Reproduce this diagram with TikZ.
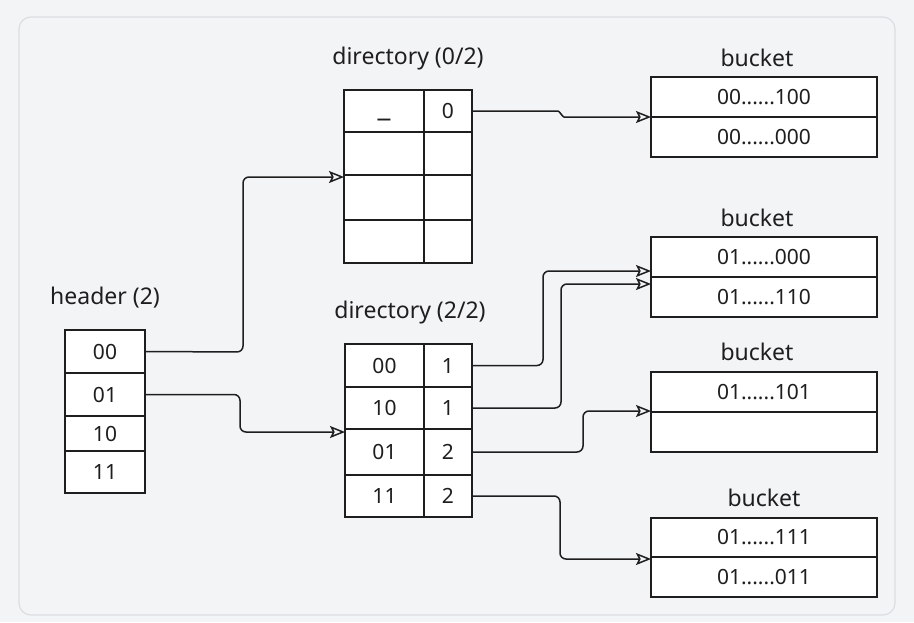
\documentclass[tikz,border=0pt]{standalone}
\usepackage{fontspec}
\setmainfont{Noto Sans}
\usetikzlibrary{arrows.meta}
\definecolor{ink}{HTML}{1E1E1E}
\definecolor{pagebg}{HTML}{F3F4F6}
\definecolor{panelbd}{HTML}{DCDDE2}
\tikzset{
  cell/.style={draw=ink, fill=white, line width=1.6pt, inner sep=0pt, outer sep=0pt,
    anchor=north west, font=\fontsize{21}{24}\selectfont, text=ink},
  lbl/.style={font=\fontsize{23}{27}\selectfont, text=ink, inner sep=0pt},
  conn/.style={draw=ink, line width=1.5pt, rounded corners=6pt,
    -{Stealth[open, length=15pt, width=12pt, inset=3pt, line width=1.5pt]}},
}
\begin{document}
\begin{tikzpicture}[x=1pt, y=-1pt]
\useasboundingbox (0,0) rectangle (914,622);
\fill[pagebg] (0,0) rectangle (914,622);
\draw[panelbd, fill=pagebg, line width=1.2pt, rounded corners=12pt] (19,17) rectangle (895,615);

% header
\node[lbl] (hlbl) at (105,298) {header (2)};
\node[cell, minimum width=80pt, minimum height=43pt] (h00) at (65,330) {00};
\node[cell, minimum width=80pt, minimum height=43pt] (h01) at (65,373) {01};
\node[cell, minimum width=80pt, minimum height=35pt] (h10) at (65,416) {10};
\node[cell, minimum width=80pt, minimum height=42pt] (h11) at (65,451) {11};

% directory (0/2)
\node[lbl] (d0lbl) at (408,59) {directory (0/2)};
\node[cell, minimum width=80pt, minimum height=42pt] (d0r0a) at (344,90) {\vphantom{0}{\fontsize{29}{30}\selectfont\_}};
\node[cell, minimum width=48pt, minimum height=42pt] (d0r0b) at (424,90) {0};
\node[cell, minimum width=80pt, minimum height=43pt] (d0r1a) at (344,132) {};
\node[cell, minimum width=48pt, minimum height=43pt] (d0r1b) at (424,132) {};
\node[cell, minimum width=80pt, minimum height=45pt] (d0r2a) at (344,175) {};
\node[cell, minimum width=48pt, minimum height=45pt] (d0r2b) at (424,175) {};
\node[cell, minimum width=80pt, minimum height=43pt] (d0r3a) at (344,220) {};
\node[cell, minimum width=48pt, minimum height=43pt] (d0r3b) at (424,220) {};

% directory (2/2)
\node[lbl] (d2lbl) at (410,313) {directory (2/2)};
\node[cell, minimum width=79pt, minimum height=43pt] (d2r0a) at (345,344) {00};
\node[cell, minimum width=48pt, minimum height=43pt] (d2r0b) at (424,344) {1};
\node[cell, minimum width=79pt, minimum height=42pt] (d2r1a) at (345,387) {10};
\node[cell, minimum width=48pt, minimum height=42pt] (d2r1b) at (424,387) {1};
\node[cell, minimum width=79pt, minimum height=46pt] (d2r2a) at (345,429) {01};
\node[cell, minimum width=48pt, minimum height=46pt] (d2r2b) at (424,429) {2};
\node[cell, minimum width=79pt, minimum height=42pt] (d2r3a) at (345,475) {11};
\node[cell, minimum width=48pt, minimum height=42pt] (d2r3b) at (424,475) {2};

% buckets
\node[lbl] (b1lbl) at (757,58) {bucket};
\node[cell, minimum width=226pt, minimum height=40pt] (b1r0) at (651,77) {00......100};
\node[cell, minimum width=226pt, minimum height=40pt] (b1r1) at (651,117) {00......000};

\node[lbl] (b2lbl) at (757,218) {bucket};
\node[cell, minimum width=226pt, minimum height=40pt] (b2r0) at (651,237) {01......000};
\node[cell, minimum width=226pt, minimum height=40pt] (b2r1) at (651,277) {01......110};

\node[lbl] (b3lbl) at (757,352) {bucket};
\node[cell, minimum width=226pt, minimum height=40pt] (b3r0) at (651,372) {01......101};
\node[cell, minimum width=226pt, minimum height=40pt] (b3r1) at (651,412) {};

\node[lbl] (b4lbl) at (764,498) {bucket};
\node[cell, minimum width=226pt, minimum height=39pt] (b4r0) at (651,518) {01......111};
\node[cell, minimum width=226pt, minimum height=40pt] (b4r1) at (651,557) {01......011};

% connector end points
\coordinate (b2in1) at (651,271);
\coordinate (b2in2) at (651,284);
\coordinate (d0in) at (344,177);
\coordinate (d2in) at (345,432);
\coordinate (b1in) at (651,117);
\coordinate (b3in) at (651,411);
\coordinate (b4in) at (651,559);

% connectors
\draw[conn] (h00.east) -- (243,352) |- (d0in);
\draw[conn] (h01.east) -- (240,394.5) |- (d2in);
\draw[conn] (d0r0b.east) -- (552,111) to[out=0,in=180] (570,117) -- (b1in);
\draw[conn] (d2r0b.east) -- (543,365.5) |- (b2in1);
\draw[conn] (d2r1b.east) -- (561,408) |- (b2in2);
\draw[conn] (d2r2b.east) -- (583,452) |- (b3in);
\draw[conn] (d2r3b.east) -- (560,496) |- (b4in);
\end{tikzpicture}
\end{document}
